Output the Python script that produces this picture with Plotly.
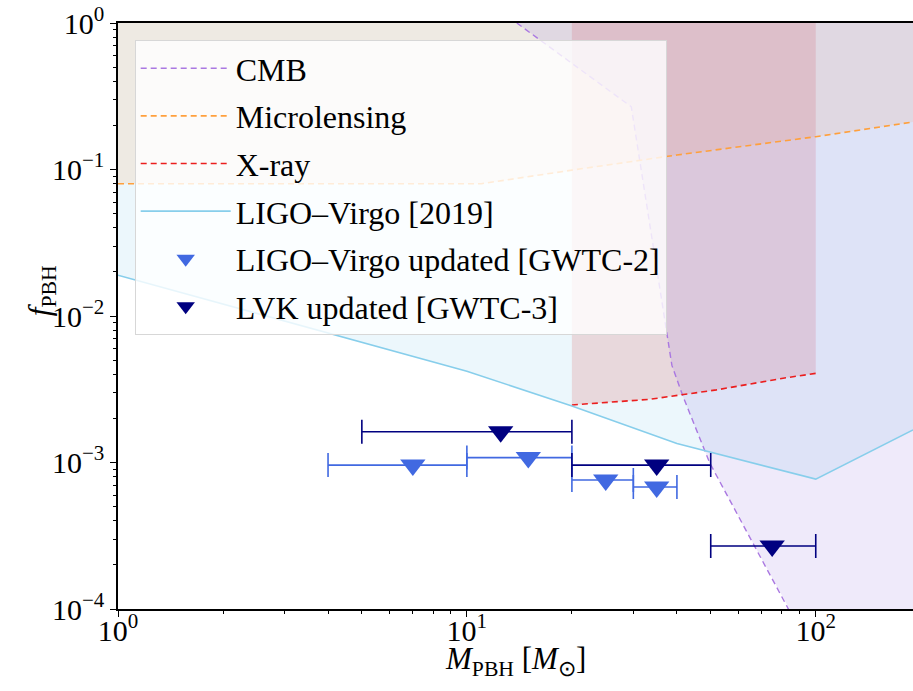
import math
import plotly.graph_objects as go

# ---------------- data ----------------
x_range = [1.0, 190.0]
y_range = [1e-4, 1.0]

# CMB bound (purple, dashed)
cmb_mass = [13.9, 29.6, 38.7, 41.7, 49.7, 64.7, 83.3, 100.0, 200.0]
cmb_f = [1.0, 0.268, 0.0046, 0.0028, 0.00099, 3.1e-4, 1.04e-4, 4.5e-5, 3e-6]

# Microlensing bound (orange, dashed)
ml_mass = [1.0, 11.0, 20.0, 40.0, 100.0, 190.0]
ml_f = [0.08, 0.08, 0.099, 0.1256, 0.1675, 0.211]

# X-ray bound (red, dashed)
xr_mass = [20.0, 33.4, 51.9, 80.6, 100.0]
xr_f = [0.00247, 0.0027, 0.00313, 0.00376, 0.00406]

# LIGO-Virgo 2019 bound (skyblue, solid)
lv_mass = [1.0, 10.0, 20.0, 40.0, 100.0, 190.0]
lv_f = [0.019, 0.0042, 0.00243, 0.00135, 0.00077, 0.00167]

# LIGO-Virgo updated [GWTC-2]
g2_mass = [7.0, 15.0, 25.0, 35.0]
g2_lo = [4.0, 10.0, 20.0, 30.0]
g2_hi = [10.0, 20.0, 30.0, 40.0]
g2_f = [0.00096, 0.00108, 0.00076, 0.00068]

# LVK updated [GWTC-3]
g3_mass = [12.5, 35.0, 75.0]
g3_lo = [5.0, 20.0, 50.0]
g3_hi = [20.0, 50.0, 100.0]
g3_f = [0.00162, 0.00096, 0.000269]

# tick labels
major_vals_x = [1, 10, 100]
major_text_x = ["10<sup>0</sup>", "10<sup>1</sup>", "10<sup>2</sup>"]
major_vals_y = [1e-4, 1e-3, 1e-2, 1e-1, 1]
major_text_y = ["10<sup>−4</sup>", "10<sup>−3</sup>", "10<sup>−2</sup>", "10<sup>−1</sup>", "10<sup>0</sup>"]
minor_x = [m * 10 ** d for d in range(0, 3) for m in range(2, 10)]
minor_y = [m * 10.0 ** d for d in range(-4, 0) for m in range(2, 10)]

x_title = "<i>M</i><sub>PBH</sub> [<i>M</i><sub>⊙</sub>]"
y_title = "<i>f</i><sub>PBH</sub>"

FONT = "Liberation Serif"
top = y_range[1]


def region_above(xs, ys):
    """Polygon for the region between a curve and the top of the axes."""
    px = list(xs) + [xs[-1], xs[0]]
    py = list(ys) + [top, top]
    return px, py


fig = go.Figure()

# ---------------- shaded regions ----------------
px, py = region_above(lv_mass, lv_f)
fig.add_trace(go.Scatter(x=px, y=py, fill="toself", mode="none",
                         fillcolor="rgba(135,206,235,0.16)", showlegend=False, hoverinfo="skip"))
px, py = region_above(ml_mass, ml_f)
fig.add_trace(go.Scatter(x=px, y=py, fill="toself", mode="none",
                         fillcolor="rgba(255,127,14,0.10)", showlegend=False, hoverinfo="skip"))
px, py = region_above(xr_mass, xr_f)
fig.add_trace(go.Scatter(x=px, y=py, fill="toself", mode="none",
                         fillcolor="rgba(214,39,40,0.15)", showlegend=False, hoverinfo="skip"))
px, py = region_above(cmb_mass, cmb_f)
fig.add_trace(go.Scatter(x=px, y=py, fill="toself", mode="none",
                         fillcolor="rgba(147,112,219,0.15)", showlegend=False, hoverinfo="skip"))

# ---------------- bound curves ----------------
fig.add_trace(go.Scatter(x=cmb_mass, y=cmb_f, mode="lines", name="CMB", legendgroup="a",
                         line=dict(color="rgb(170,120,225)", width=1.4, dash="6px,4px")))
fig.add_trace(go.Scatter(x=ml_mass, y=ml_f, mode="lines", name="Microlensing", legendgroup="b",
                         line=dict(color="rgb(255,160,60)", width=1.6, dash="6px,4px")))
fig.add_trace(go.Scatter(x=xr_mass, y=xr_f, mode="lines", name="X-ray", legendgroup="c",
                         line=dict(color="rgb(235,30,30)", width=1.6, dash="6px,4px")))
fig.add_trace(go.Scatter(x=lv_mass, y=lv_f, mode="lines", name="LIGO–Virgo [2019]", legendgroup="d",
                         line=dict(color="rgb(135,206,235)", width=1.6)))

# ---------------- updated constraints ----------------
fig.add_trace(go.Scatter(
    x=g2_mass, y=g2_f, mode="markers", name="LIGO–Virgo updated [GWTC-2]", legendgroup="e",
    marker=dict(symbol="triangle-down", size=22, color="royalblue"),
    error_x=dict(type="data", symmetric=False,
                 array=[h - m for h, m in zip(g2_hi, g2_mass)],
                 arrayminus=[m - l for m, l in zip(g2_mass, g2_lo)],
                 color="royalblue", thickness=1.6, width=12)))
fig.add_trace(go.Scatter(
    x=g3_mass, y=g3_f, mode="markers", name="LVK updated [GWTC-3]", legendgroup="f",
    marker=dict(symbol="triangle-down", size=22, color="navy"),
    error_x=dict(type="data", symmetric=False,
                 array=[h - m for h, m in zip(g3_hi, g3_mass)],
                 arrayminus=[m - l for m, l in zip(g3_mass, g3_lo)],
                 color="navy", thickness=1.6, width=12)))

fig.update_layout(
    width=913, height=691,
    margin=dict(l=118, r=0, t=23, b=82, autoexpand=False),
    paper_bgcolor="white", plot_bgcolor="white",
    font=dict(family=FONT, size=30, color="black"),
    showlegend=True,
    legend=dict(x=0.021, y=0.971, xanchor="left", yanchor="top",
                bgcolor="rgba(255,255,255,0.8)", bordercolor="rgb(215,215,215)", borderwidth=1,
                font=dict(family=FONT, size=32, color="black"),
                traceorder="grouped", tracegroupgap=3, itemwidth=90),
    xaxis=dict(type="log", range=[math.log10(x_range[0]), math.log10(x_range[1])],
               automargin=False,
               tickmode="array", tickvals=major_vals_x, ticktext=major_text_x,
               ticks="outside", ticklen=6, tickwidth=1.2, tickcolor="black",
               ticklabelstandoff=-12,
               showline=True, linecolor="black", linewidth=1.5, mirror=True,
               showgrid=False, zeroline=False,
               minor=dict(tickmode="array", tickvals=minor_x, ticks="outside", ticklen=3.5,
                          tickwidth=1, tickcolor="black", showgrid=False),
               tickfont=dict(family=FONT, size=30)),
    yaxis=dict(type="log", range=[math.log10(y_range[0]), math.log10(y_range[1])],
               automargin=False,
               tickmode="array", tickvals=major_vals_y, ticktext=major_text_y,
               ticks="outside", ticklen=6, tickwidth=1.2, tickcolor="black",
               showline=True, linecolor="black", linewidth=1.5,
               showgrid=False, zeroline=False,
               minor=dict(tickmode="array", tickvals=minor_y, ticks="outside", ticklen=3.5,
                          tickwidth=1, tickcolor="black", showgrid=False),
               tickfont=dict(family=FONT, size=30)),
    annotations=[
        dict(text=x_title, xref="paper", yref="paper", x=0.5, y=-0.088,
             xanchor="center", yanchor="middle", showarrow=False,
             font=dict(family=FONT, size=31)),
        dict(text=y_title, xref="paper", yref="paper", x=-0.0956, y=0.544,
             xanchor="center", yanchor="middle", showarrow=False, textangle=-90,
             font=dict(family=FONT, size=31)),
    ],
)

fig.write_html("out.html", config={"displayModeBar": False},
               post_script="document.body.style.margin='0';")
